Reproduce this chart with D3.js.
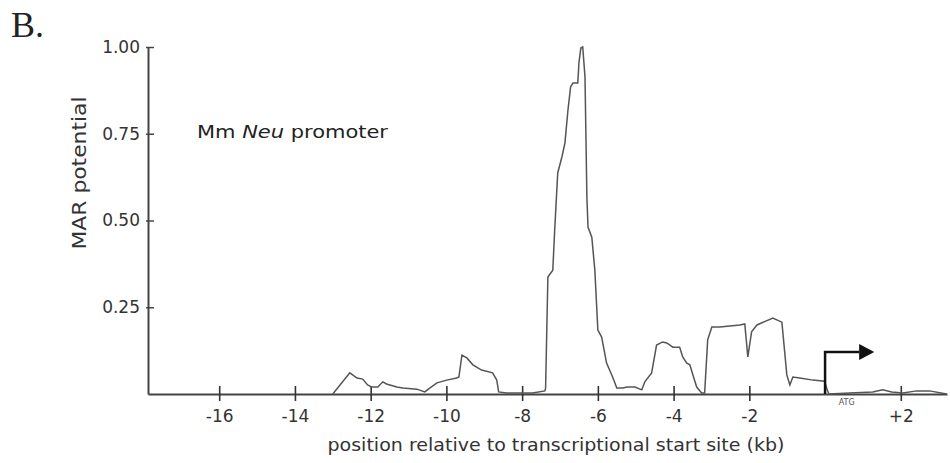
<!DOCTYPE html>
<html>
<head>
<meta charset="utf-8">
<script src="https://cdn.jsdelivr.net/npm/d3@7"></script>
<style>
  body { margin: 0; background: #fff; }
  text { font-family: "DejaVu Sans", sans-serif; }
</style>
</head>
<body>
<div id="chart"></div>
<script>
// position relative to TSS (kb) and MAR potential
const positionKb = [-13.00, -12.55, -12.36, -12.21, -12.08, -11.97, -11.81, -11.68, -11.58, -11.31,
  -11.15, -10.78, -10.57, -10.44, -10.25, -9.99, -9.73, -9.67, -9.59, -9.46,
  -9.30, -9.07, -8.78, -8.67, -8.62, -8.41, -7.98, -7.72, -7.40, -7.38,
  -7.32, -7.19, -7.14, -7.06, -6.95, -6.87, -6.79, -6.72, -6.66, -6.53,
  -6.50, -6.45, -6.40, -6.34, -6.29, -6.26, -6.16, -6.08, -6.00, -5.90,
  -5.77, -5.61, -5.50, -5.34, -5.23, -5.02, -4.84, -4.76, -4.58, -4.45,
  -4.29, -4.18, -4.02, -3.84, -3.76, -3.65, -3.57, -3.49, -3.39, -3.26,
  -3.18, -3.10, -2.99, -2.78, -2.25, -2.12, -2.04, -1.94, -1.80, -1.38,
  -1.14, -1.01, -0.93, -0.85, -0.67, -0.32, -0.01, 0.04, 0.10, 0.65,
  1.26, 1.52, 1.76, 2.05, 2.42, 2.76, 3.21];
const marPotential = [0.000, 0.061, 0.046, 0.043, 0.026, 0.020, 0.020, 0.035, 0.029, 0.020,
  0.017, 0.014, 0.006, 0.017, 0.032, 0.040, 0.046, 0.049, 0.112, 0.104,
  0.084, 0.069, 0.061, 0.040, 0.006, 0.003, 0.003, 0.003, 0.009, 0.017,
  0.337, 0.357, 0.473, 0.637, 0.683, 0.723, 0.818, 0.885, 0.896, 0.896,
  0.954, 0.997, 1.000, 0.914, 0.568, 0.481, 0.452, 0.357, 0.184, 0.164,
  0.089, 0.049, 0.017, 0.017, 0.020, 0.020, 0.012, 0.035, 0.061, 0.141,
  0.150, 0.147, 0.135, 0.135, 0.107, 0.089, 0.084, 0.055, 0.020, 0.003,
  0.003, 0.156, 0.193, 0.193, 0.199, 0.202, 0.107, 0.179, 0.199, 0.219,
  0.207, 0.055, 0.026, 0.049, 0.046, 0.040, 0.037, 0.017, 0.000, 0.003,
  0.006, 0.012, 0.006, 0.003, 0.009, 0.009, 0.000];

const xTicks = [-16, -14, -12, -10, -8, -6, -4, -2, 2];
const yTicks = [0.25, 0.50, 0.75, 1.00];

// transcription start arrow (data units)
const arrowTop = 0.121, arrowShaftEnd = 0.9, arrowTip = 1.3;

const margin = {top: 47, right: 3, bottom: 69, left: 148},
  width = 950 - margin.left - margin.right,
  height = 463 - margin.top - margin.bottom;

const svg = d3.select("#chart")
  .append("svg")
    .attr("width", 950)
    .attr("height", 463);

const g = svg.append("g")
  .attr("transform", `translate(${margin.left},${margin.top})`);

const x = d3.scaleLinear().domain([-17.88, 3.22]).range([0, width]);
const y = d3.scaleLinear().domain([0, 1]).range([height, 0]);

// panel letter
svg.append("text")
  .attr("x", 11).attr("y", 37)
  .style("font-family", "'Liberation Serif', serif")
  .style("font-size", "36px")
  .style("fill", "#222")
  .text("B.");

// x axis
const xAxis = g.append("g")
  .attr("transform", `translate(0,${height})`)
  .call(d3.axisBottom(x).tickValues(xTicks).tickSize(7).tickPadding(9).tickSizeOuter(0)
    .tickFormat(d => d > 0 ? "+" + d : String(d)));
xAxis.select(".domain").attr("stroke", "#444").attr("stroke-width", 2);
xAxis.selectAll(".tick line").attr("y1", -8).attr("y2", 7).attr("stroke", "#333").attr("stroke-width", 1.6);
xAxis.selectAll(".tick text").style("font-size", "17px").style("fill", "#333");

// y axis
const yAxis = g.append("g")
  .call(d3.axisLeft(y).tickValues(yTicks).tickSize(-6).tickPadding(8).tickSizeOuter(0)
    .tickFormat(d3.format(".2f")));
yAxis.select(".domain").attr("stroke", "#444").attr("stroke-width", 2);
yAxis.selectAll(".tick line").attr("x1", -2).attr("stroke", "#444").attr("stroke-width", 1.5);
yAxis.selectAll(".tick text").style("font-size", "17px").style("fill", "#333");

// curve
const pts = positionKb.map((k, i) => [k, marPotential[i]]);
g.append("path")
  .datum(pts)
  .attr("d", d3.line().x(d => x(d[0])).y(d => y(d[1])))
  .style("fill", "none")
  .style("stroke", "#555")
  .style("stroke-width", 1.5);

// start site arrow
g.append("path")
  .attr("d", `M${x(0)},${y(0)} V${y(arrowTop)} H${x(arrowShaftEnd)}`)
  .style("fill", "none")
  .style("stroke", "#111")
  .style("stroke-width", 2.5);
g.append("path")
  .attr("d", `M${x(arrowShaftEnd)},${y(arrowTop) - 8} L${x(arrowTip)},${y(arrowTop)} L${x(arrowShaftEnd)},${y(arrowTop) + 8} Z`)
  .style("fill", "#111");

g.append("text")
  .attr("x", x(0.57)).attr("y", height + 11)
  .attr("text-anchor", "middle")
  .style("font-size", "8px")
  .style("fill", "#555")
  .text("ATG");

// annotation
const note = g.append("text")
  .attr("x", 197 - margin.left).attr("y", 138 - margin.top)
  .attr("textLength", 191).attr("lengthAdjust", "spacingAndGlyphs")
  .style("font-size", "18px")
  .style("fill", "#222");
note.append("tspan").text("Mm ");
note.append("tspan").style("font-style", "italic").text("Neu");
note.append("tspan").text(" promoter");

// axis titles
g.append("text")
  .attr("x", 556 - margin.left).attr("y", 451 - margin.top)
  .attr("text-anchor", "middle")
  .attr("textLength", 457).attr("lengthAdjust", "spacingAndGlyphs")
  .style("font-size", "17px")
  .style("fill", "#333")
  .text("position relative to transcriptional start site (kb)");

g.append("text")
  .attr("transform", `translate(${86 - margin.left},${173 - margin.top}) rotate(-90)`)
  .attr("text-anchor", "middle")
  .attr("textLength", 153).attr("lengthAdjust", "spacingAndGlyphs")
  .style("font-size", "19px")
  .style("fill", "#333")
  .text("MAR potential");
</script>
</body>
</html>
